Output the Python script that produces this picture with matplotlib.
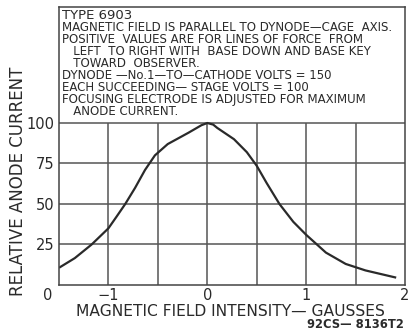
import matplotlib.pyplot as plt
import numpy as np

# curve
field = [-1.49, -1.34, -1.17, -1.0, -0.92, -0.83, -0.73, -0.63, -0.53, -0.40, -0.19,
         -0.06, 0.0, 0.06, 0.10, 0.27, 0.40, 0.50, 0.60, 0.73, 0.87, 1.0, 1.2, 1.4, 1.6, 1.9]
current = [11, 16.6, 25, 35, 42, 50, 60, 71, 80, 87, 94,
           98.6, 100, 99, 97, 90, 82, 73.6, 63, 50, 39, 31, 20, 13, 9, 4.7]

x_ticks = [-1, 0, 1, 2]
x_labels = ['\u22121', '0', '1', '2']
y_ticks = [25, 50, 75, 100]
y_labels = ['25', '50', '75', '100']
x_grid = [-1.0, -0.5, 0.0, 0.5, 1.0, 1.5]

title = "TYPE 6903"
notes = ["MAGNETIC FIELD IS PARALLEL TO DYNODE\u2014CAGE  AXIS.",
         "POSITIVE  VALUES ARE FOR LINES OF FORCE  FROM",
         "   LEFT  TO RIGHT WITH  BASE DOWN AND BASE KEY",
         "   TOWARD  OBSERVER.",
         "DYNODE \u2014No.1\u2014TO\u2014CATHODE VOLTS = 150",
         "EACH SUCCEEDING\u2014 STAGE VOLTS = 100",
         "FOCUSING ELECTRODE IS ADJUSTED FOR MAXIMUM",
         "   ANODE CURRENT."]

ink = '#2a2a2a'
top = 171.6

fig = plt.figure(figsize=(4.1, 3.32), dpi=100)
ax = fig.add_axes([59 / 410, 1 - 285 / 332, 346 / 410, 278 / 332])
ax.set_xlim(-1.5, 2)
ax.set_ylim(0, top)

ax.vlines(x_grid, 0, 100, color='#555555', lw=1.1)
ax.hlines(y_ticks, -1.5, 2, color='#555555', lw=1.1)
ax.plot(field, current, color=ink, lw=1.6, solid_joinstyle='round')

for s in ax.spines.values():
    s.set_color('#444444')
    s.set_linewidth(1.1)

ax.set_xticks(x_ticks)
ax.set_xticklabels(x_labels)
ax.set_yticks(y_ticks)
ax.set_yticklabels(y_labels)
ax.tick_params(length=0, labelsize=10.5, colors=ink, pad=2)
ax.tick_params(axis='y', pad=3)
ax.text(-1.57, -2, '0', ha='right', va='top', fontsize=10.5, color=ink)

ax.text(-1.47, top - 1.3, title, ha='left', va='top', fontsize=9.5, color=ink)
ax.text(-1.47, top - 8.6, '\n'.join(notes), ha='left', va='top',
        fontsize=8.5, color=ink, linespacing=0.9)

fig.text(230 / 410, 1 - 311 / 332, 'MAGNETIC FIELD INTENSITY\u2014 GAUSSES',
         ha='center', va='center', fontsize=11.2, color=ink)
fig.text(404 / 410, 1 - 325 / 332, '92CS\u2014 8136T2', ha='right', va='center',
         fontsize=8.3, color=ink, weight='bold')
fig.text(18 / 410, 1 - 181 / 332, 'RELATIVE ANODE CURRENT', rotation=90,
         ha='center', va='center', fontsize=12, color=ink)

plt.savefig('out.png', dpi=100)
